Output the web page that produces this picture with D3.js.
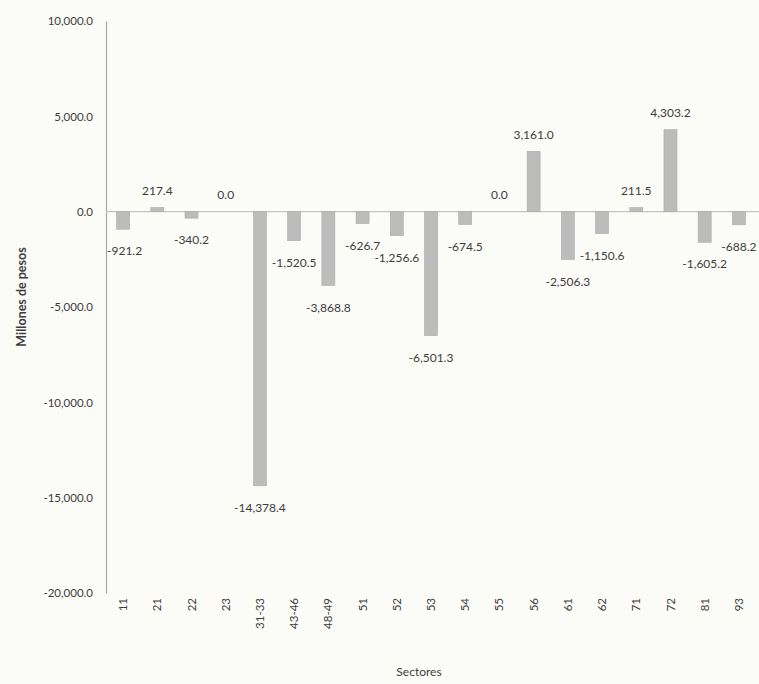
<!DOCTYPE html>
<html>
<head>
<meta charset="utf-8">
<script src="https://cdn.jsdelivr.net/npm/d3@7"></script>
<style>
  html, body { margin: 0; padding: 0; background: #fbfbf8; }
  svg { display: block; }
  text { font-family: Lato, "Open Sans", sans-serif; fill: #3d3d3d; }
</style>
</head>
<body>
<script>
// Sectors and their values (millones de pesos)
const sectors = ["11", "21", "22", "23", "31-33", "43-46", "48-49", "51", "52", "53",
                 "54", "55", "56", "61", "62", "71", "72", "81", "93"];
const values = [-921.2, 217.4, -340.2, 0.0, -14378.4, -1520.5, -3868.8, -626.7, -1256.6, -6501.3,
                -674.5, 0.0, 3161.0, -2506.3, -1150.6, 211.5, 4303.2, -1605.2, -688.2];
const yTicks = [10000, 5000, 0, -5000, -10000, -15000, -20000];
const yTitle = "Millones de pesos";
const xTitle = "Sectores";

const W = 759, H = 684;
// plain hyphen for negatives
const fmt = d3.formatLocale({ decimal: ".", thousands: ",", grouping: [3], currency: ["$", ""], minus: "-" })
  .format(",.1f");

const svg = d3.select("body").append("svg")
  .attr("width", W).attr("height", H);

const axisX = 106;

const x = d3.scaleBand()
  .domain(sectors)
  .range([axisX, 756])
  .paddingInner(0.62)
  .paddingOuter(0.31);

const y = d3.scaleLinear()
  .domain([-20000, 10000])
  .range([593, 21]);

// Vertical value axis
const yAxis = d3.axisLeft(y)
  .tickValues(yTicks)
  .tickSize(0)
  .tickPadding(13)
  .tickFormat(fmt);

const gy = svg.append("g")
  .attr("transform", `translate(${axisX},0)`)
  .call(yAxis);
gy.select(".domain").attr("stroke", "#a6a6a6").attr("stroke-width", 1.2);
gy.selectAll("text")
  .style("font-size", "11.5px")
  .attr("fill", "#444");

// Zero baseline
svg.append("line")
  .attr("x1", axisX).attr("x2", W)
  .attr("y1", y(0)).attr("y2", y(0))
  .attr("stroke", "#c4c4c4")
  .attr("stroke-width", 1.2);

// Bars
svg.append("g").selectAll("rect")
  .data(values)
  .join("rect")
  .attr("x", (d, i) => x(sectors[i]))
  .attr("width", x.bandwidth())
  .attr("y", d => y(Math.max(0, d)))
  .attr("height", d => Math.abs(y(d) - y(0)))
  .attr("fill", "#bcbcbc")
  .attr("stroke", "#ababab")
  .attr("stroke-width", 0.6);

// Value labels beyond each bar end, kept inside the plot area
svg.append("g").selectAll("text")
  .data(values)
  .join("text")
  .attr("y", d => d >= 0 ? y(d) - 17 : y(d) + 22)
  .attr("text-anchor", "middle")
  .attr("dy", "0.35em")
  .style("font-size", "12px")
  .text(d => fmt(d))
  .attr("x", function (d, i) {
    const cx = x(sectors[i]) + x.bandwidth() / 2;
    const half = this.getComputedTextLength() / 2;
    return Math.max(cx, axisX + 1 + half);
  });

// Rotated sector labels
svg.append("g").selectAll("text")
  .data(sectors)
  .join("text")
  .attr("transform", d => `translate(${x(d) + x.bandwidth() / 2},598) rotate(-90)`)
  .attr("text-anchor", "end")
  .attr("dy", "0.35em")
  .style("font-size", "11.5px")
  .text(d => d);

// Axis titles
svg.append("text")
  .attr("transform", "translate(22,297) rotate(-90)")
  .attr("text-anchor", "middle")
  .attr("dy", "0.35em")
  .style("font-size", "12.5px")
  .style("font-weight", "bold")
  .attr("fill", "#222")
  .text(yTitle);

svg.append("text")
  .attr("x", 419).attr("y", 672)
  .attr("text-anchor", "middle")
  .attr("dy", "0.35em")
  .style("font-size", "12px")
  .text(xTitle);
</script>
</body>
</html>
